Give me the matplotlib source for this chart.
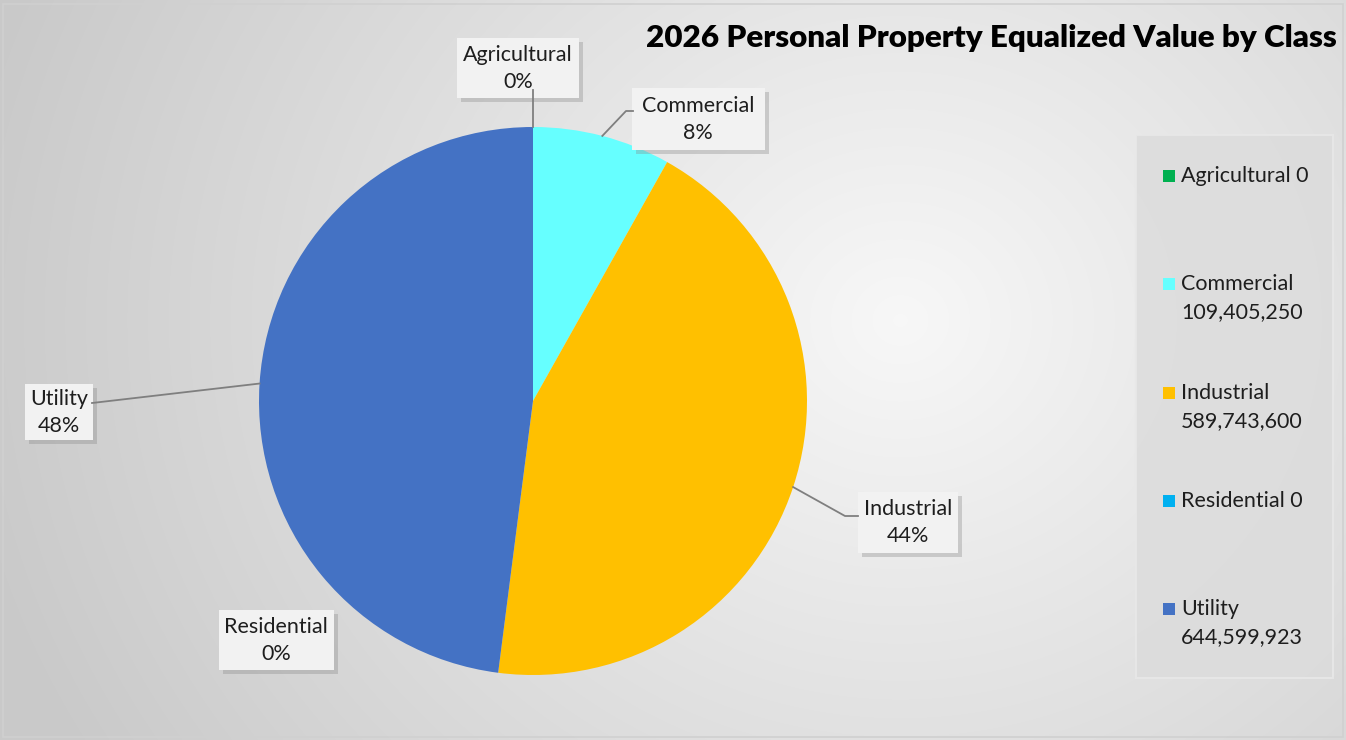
import numpy as np
import matplotlib
matplotlib.use("Agg")
import matplotlib.pyplot as plt
from matplotlib.patches import Rectangle

plt.rcParams["font.family"] = ["Lato", "DejaVu Sans"]

# data
classes = ["Agricultural", "Commercial", "Industrial", "Residential", "Utility"]
values = [0, 109405250, 589743600, 0, 644599923]
colors = ["#00b050", "#66ffff", "#ffc000", "#00b0f0", "#4472c4"]
title = "2026 Personal Property Equalized Value by Class"

W, H = 1346, 740
fig = plt.figure(figsize=(W / 100, H / 100), dpi=100)

# radial grey background
bg = fig.add_axes([0, 0, 1, 1])
yy, xx = np.mgrid[0:H, 0:W]
dist = np.hypot(xx - 900, (yy - 320) / 0.9)
shade = np.clip(dist / 950, 0, 1)
img = np.empty((H, W, 3))
img[...] = (0.97 - shade * 0.18)[..., None]
bg.imshow(img, extent=[0, W, 0, H], origin="upper", aspect="auto",
          interpolation="bilinear")
bg.set_xlim(0, W)
bg.set_ylim(0, H)
bg.axis("off")
bg.add_patch(Rectangle((3, 3), W - 6, H - 7, fill=False, ec="#d0d0d0", lw=1.2))

ax = fig.add_axes([0, 0, 1, 1])

cx, cy, r = 533, H - 401, 274
wedges, _ = ax.pie(values, colors=colors, startangle=90, counterclock=False,
                   center=(cx, cy), radius=r, frame=True,
                   wedgeprops=dict(linewidth=0))
ax.set_xlim(0, W)
ax.set_ylim(0, H)
ax.axis("off")

total = sum(values)
txt = "#1e1e1e"

# label box layout: centre x, centre y (px from top), width, height, elbow
layout = {
    "Agricultural": (518, 68, 122, 60, None),
    "Commercial": (698, 119, 133, 62, [(626, 111), (633, 111)]),
    "Industrial": (908, 522, 100, 61, [(845, 516), (858, 516)]),
    "Residential": (276, 640, 115, 60, "none"),
    "Utility": (59, 412, 68, 56, [(92, 403)]),
}

for w, name, v in zip(wedges, classes, values):
    bx, by, bw, bh, leader = layout[name]
    by = H - by
    mid = np.deg2rad((w.theta1 + w.theta2) / 2)
    ex, ey = cx + r * np.cos(mid), cy + r * np.sin(mid)
    if leader is None:
        pts = [(ex, ey), (ex, by - bh / 2 + 8)]
    elif leader == "none":
        pts = []
    else:
        pts = [(ex, ey)] + [(px, H - py) for px, py in leader]
    if pts:
        xs, ys = zip(*pts)
        ax.plot(xs, ys, color="#7f7f7f", lw=1.3, zorder=6)
    # shadow + box
    ax.add_patch(Rectangle((bx - bw / 2 + 4, by - bh / 2 - 4), bw, bh,
                           fc="#8a8a8a", ec="none", alpha=0.35, zorder=4))
    ax.add_patch(Rectangle((bx - bw / 2, by - bh / 2), bw, bh,
                           fc="#f2f2f2", ec="none", zorder=5))
    pct = f"{v / total * 100:.0f}%"
    ax.text(bx, by + 13, name, ha="center", va="center", fontsize=15.5,
            color=txt, zorder=7)
    ax.text(bx, by - 14, pct, ha="center", va="center", fontsize=15.5,
            color=txt, zorder=7)

# title
ax.text(1337, H - 38, title, ha="right", va="center", fontsize=22.6,
        fontweight="heavy", color="black")

# legend panel
ax.add_patch(Rectangle((1136, H - 678), 197, 543, fc="#dcdcdc", ec="#e8e8e8",
                       lw=1.5, alpha=0.85, zorder=3))
for i, (name, v, c) in enumerate(zip(classes, values, colors)):
    y0 = H - (176 + 108.3 * i)
    ax.add_patch(Rectangle((1163, y0 - 6), 12, 12, fc=c, ec="none", zorder=4))
    if v == 0:
        ax.text(1181, y0, f"{name} {v:,}", ha="left", va="center",
                fontsize=15.5, color=txt, zorder=4)
    else:
        ax.text(1181, y0, name, ha="left", va="center", fontsize=15.5,
                color=txt, zorder=4)
        ax.text(1181, y0 - 28, f"{v:,}", ha="left", va="center",
                fontsize=15.5, color=txt, zorder=4)

fig.savefig("out.png", dpi=100)
